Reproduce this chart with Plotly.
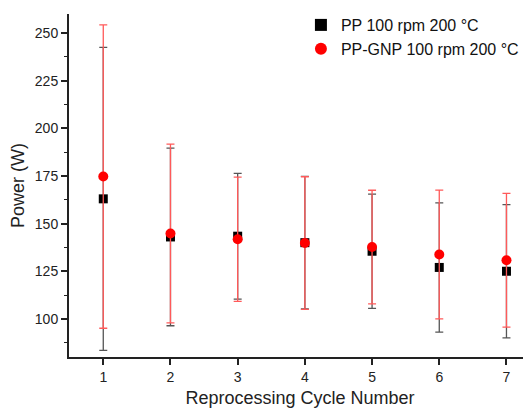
import plotly.graph_objects as go

cycles = [1, 2, 3, 4, 5, 6, 7]
pp_mean = [163.0, 143.0, 143.4, 140.0, 135.5, 127.0, 125.0]
pp_err = [79.5, 46.6, 33.0, 34.8, 30.0, 33.9, 35.0]
gnp_mean = [174.7, 144.8, 141.8, 139.8, 137.7, 133.8, 130.8]
gnp_err = [79.6, 46.9, 32.6, 34.8, 29.8, 33.8, 35.1]

name_pp = "PP 100 rpm 200 °C"
name_gnp = "PP-GNP 100 rpm 200 °C"

font_family = "Arial, Liberation Sans, sans-serif"

fig = go.Figure()
fig.add_trace(go.Scatter(
    x=cycles, y=pp_mean, mode="markers", name=name_pp,
    marker=dict(symbol="square", size=9, color="black"),
    error_y=dict(type="data", array=pp_err, visible=True,
                 color="#555555", thickness=1.3, width=4),
))
fig.add_trace(go.Scatter(
    x=cycles, y=gnp_mean, mode="markers", name=name_gnp,
    marker=dict(symbol="circle", size=10, color="red"),
    error_y=dict(type="data", array=gnp_err, visible=True,
                 color="#ff5a5a", thickness=1.3, width=4),
))

# page body has an 8px default margin, so the figure is 8px smaller
fig.update_layout(
    width=523, height=400,
    margin=dict(l=61, r=0, t=2, b=51),
    paper_bgcolor="white", plot_bgcolor="white",
    font=dict(family=font_family, color="#222", size=14),
    showlegend=True,
    legend=dict(x=0.502, y=1.018, xanchor="left", yanchor="top",
                font=dict(size=16, color="#111"), bgcolor="rgba(0,0,0,0)",
                tracegroupgap=0, itemsizing="constant"),
)
fig.update_xaxes(
    range=[0.49, 7.365], tickvals=cycles, ticktext=[str(c) for c in cycles],
    showline=True, linecolor="#222", linewidth=2, mirror=False,
    ticks="outside", ticklen=6, tickwidth=1.5, tickcolor="#222",
    showgrid=False, zeroline=False, automargin=False,
    tickfont=dict(size=14),
    title=dict(text="Reprocessing Cycle Number", font=dict(size=18), standoff=8),
)
fig.update_yaxes(
    range=[80, 260], tickvals=[100, 125, 150, 175, 200, 225, 250],
    showline=True, linecolor="#222", linewidth=2, mirror=False,
    ticks="outside", ticklen=6, tickwidth=1.5, tickcolor="#222",
    minor=dict(ticks="outside", ticklen=3, tickwidth=1.2, tickcolor="#222",
               dtick=12.5, tick0=87.5, showgrid=False),
    showgrid=False, zeroline=False, automargin=False,
    tickfont=dict(size=14),
    title=dict(text="Power (W)", font=dict(size=18), standoff=6),
)

fig.write_html("out.html")
